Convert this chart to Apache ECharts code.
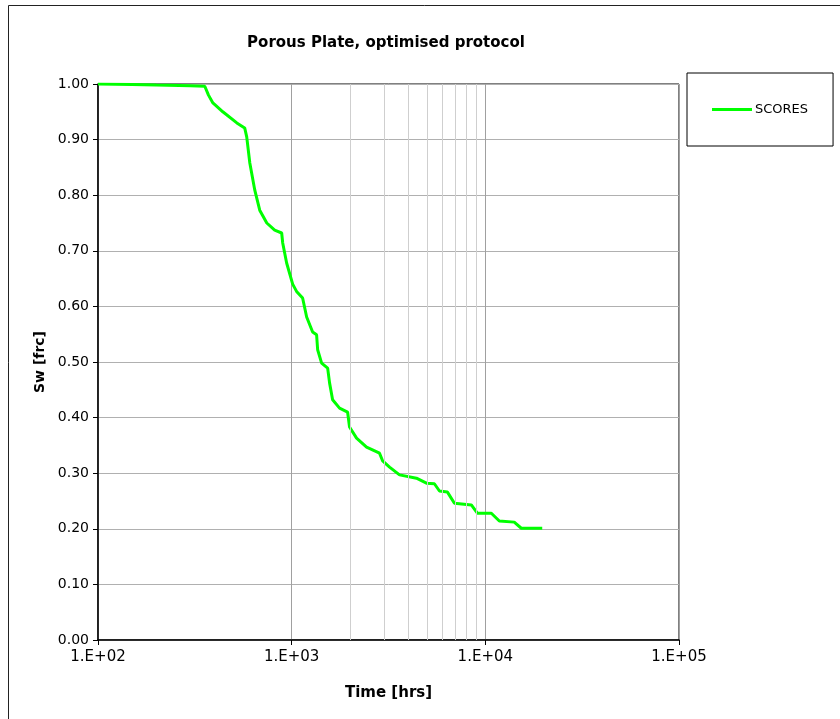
<!DOCTYPE html>
<html>
<head>
<meta charset="utf-8">
<script src="https://cdn.jsdelivr.net/npm/echarts@6/dist/echarts.min.js"></script>
<style>
html,body{margin:0;padding:0;background:#fff;}
#chart{width:840px;height:719px;}
</style>
</head>
<body>
<div id="chart"></div>
<script>
// Data
var seriesName = 'SCORES';
var timeHrs = [100, 150, 200, 300, 356, 372, 392, 441, 521, 572, 586, 608, 645, 684, 744, 817, 888, 899, 942, 1012, 1060, 1139, 1195, 1283, 1345, 1362, 1428, 1534, 1570, 1627, 1767, 1944, 1990, 2163, 2436, 2843, 2950, 3202, 3605, 4409, 4965, 5458, 5796, 6373, 6925, 8466, 9095, 10740, 11810, 14100, 15340, 19670];
var swFrc   = [1.000, 0.999, 0.998, 0.997, 0.996, 0.980, 0.966, 0.950, 0.930, 0.921, 0.905, 0.858, 0.809, 0.773, 0.750, 0.737, 0.732, 0.714, 0.678, 0.640, 0.627, 0.615, 0.581, 0.554, 0.549, 0.522, 0.498, 0.489, 0.462, 0.432, 0.417, 0.410, 0.383, 0.363, 0.347, 0.336, 0.322, 0.311, 0.297, 0.291, 0.282, 0.281, 0.268, 0.266, 0.246, 0.243, 0.228, 0.228, 0.214, 0.212, 0.201, 0.201];
var minorGridTimes = [2000, 3000, 4000, 5000, 6000, 7000, 8000, 9000];
var xTickExponents = ['1.E+02', '1.E+03', '1.E+04', '1.E+05'];
var yTickLabels = ['0.00','0.10','0.20','0.30','0.40','0.50','0.60','0.70','0.80','0.90','1.00'];

var pts = timeHrs.map(function (t, i) { return [t, swFrc[i]]; });
var FONT = 'DejaVu Sans';

var chart = echarts.init(document.getElementById('chart'), null, {renderer: 'canvas'});
chart.setOption({
  animation: false,
  backgroundColor: '#fff',
  title: {
    text: 'Porous Plate, optimised protocol',
    left: 381, top: 31, textAlign: 'center',
    textStyle: {fontFamily: FONT, fontSize: 15, fontWeight: 'bold', color: '#000'}
  },
  legend: {
    data: [seriesName],
    left: 687, top: 73,
    orient: 'vertical',
    icon: 'rect',
    itemWidth: 40, itemHeight: 3, itemGap: 0,
    padding: [30, 25, 30, 25],
    borderColor: '#000', borderWidth: 1,
    backgroundColor: '#fff',
    textStyle: {fontFamily: FONT, fontSize: 13, color: '#000', padding: [0, 0, 0, -2]}
  },
  graphic: [{
    type: 'rect', silent: true, z: -10,
    shape: {x: 8.5, y: 5.5, width: 900, height: 800},
    style: {fill: 'none', stroke: '#222', lineWidth: 1}
  }],
  grid: {
    left: 98, right: 161, top: 84, bottom: 79,
    show: true, borderColor: '#000', borderWidth: 1, backgroundColor: '#fff'
  },
  xAxis: {
    type: 'log', logBase: 10, min: 100, max: 100000,
    name: 'Time [hrs]', nameLocation: 'middle', nameGap: 46,
    nameTextStyle: {fontFamily: FONT, fontSize: 15, fontWeight: 'bold', color: '#000'},
    axisLine: {show: true, lineStyle: {color: '#000', width: 1.5}},
    axisTick: {show: true, length: 5, inside: false, lineStyle: {color: '#000'}},
    axisLabel: {
      margin: 10, fontFamily: FONT, fontSize: 15, color: '#000',
      formatter: function (v) {
        var e = Math.round(Math.log10(v));
        return xTickExponents[e - 2] || '';
      }
    },
    splitLine: {show: true, lineStyle: {color: '#a0a0a0', width: 1}}
  },
  yAxis: {
    type: 'value', min: 0, max: 1, interval: 0.1,
    name: 'Sw [frc]', nameLocation: 'middle', nameGap: 51, nameRotate: 90,
    nameTextStyle: {fontFamily: FONT, fontSize: 14, fontWeight: 'bold', color: '#000'},
    axisLine: {show: true, lineStyle: {color: '#000', width: 1.5}},
    axisTick: {show: true, length: 5, inside: false, lineStyle: {color: '#000'}},
    axisLabel: {
      margin: 9, fontFamily: FONT, fontSize: 14, color: '#000',
      formatter: function (v) { return yTickLabels[Math.round(v * 10)]; }
    },
    splitLine: {show: true, lineStyle: {color: '#b0b0b0', width: 1}}
  },
  series: [
    {
      name: 'minor', type: 'line', data: [], z: 1, silent: true,
      markLine: {
        silent: true, symbol: 'none', label: {show: false}, animation: false,
        lineStyle: {color: '#cfcfcf', width: 1, type: 'solid'},
        data: minorGridTimes.map(function (t) { return {xAxis: t}; })
      }
    },
    {
      name: seriesName, type: 'line', data: pts, z: 3,
      showSymbol: false, symbol: 'none', smooth: false,
      lineStyle: {color: '#00ff00', width: 3},
      itemStyle: {color: '#00ff00'}
    }
  ]
});
</script>
</body>
</html>
